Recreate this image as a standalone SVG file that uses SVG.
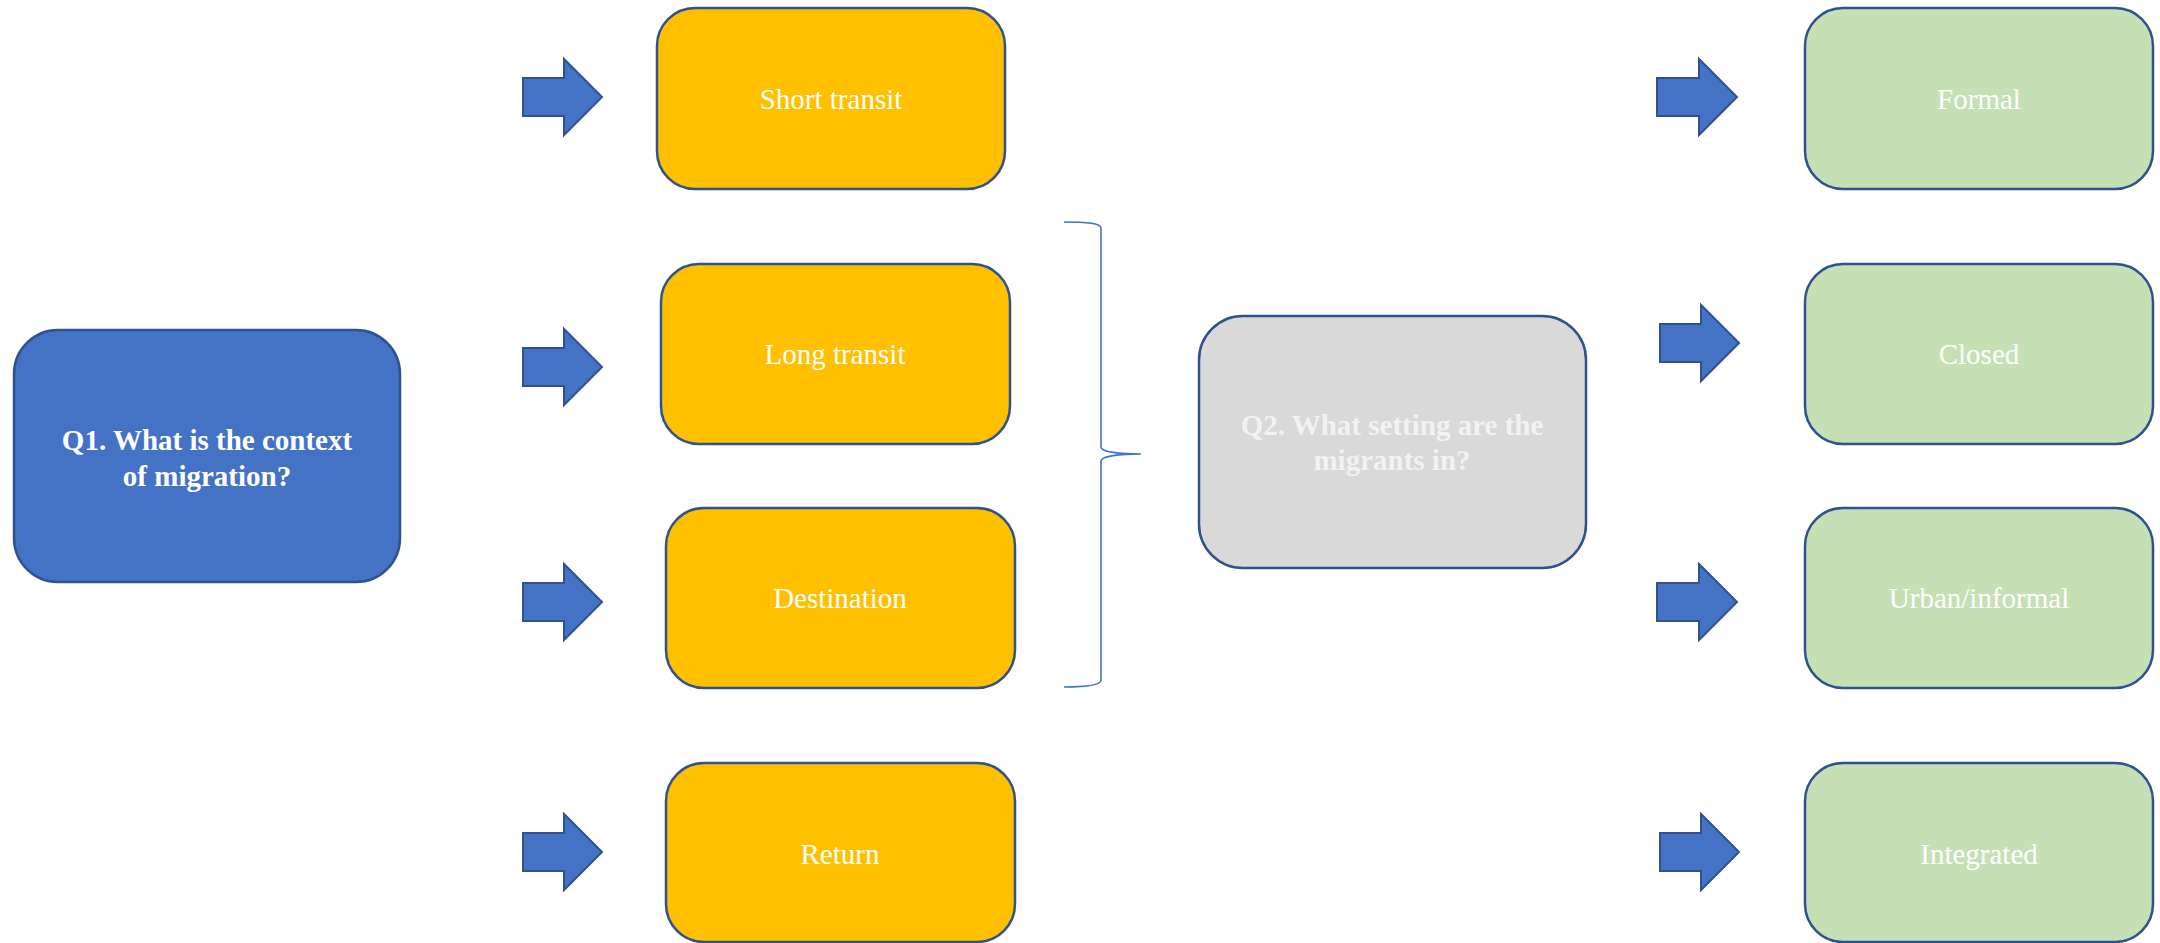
<svg xmlns="http://www.w3.org/2000/svg" width="2160" height="943" viewBox="0 0 2160 943">
<style>
.box{stroke:#2F528F;stroke-width:2.5}
.q1{fill:#4472C4}
.q2{fill:#D9D9D9}
.ctx{fill:#FFC000}
.set{fill:#C5E0B4}
.arr{fill:#4472C4;stroke:#2F528F;stroke-width:2;stroke-linejoin:miter}
.brace{fill:none;stroke:#4472C4;stroke-width:1.6}
text{font-family:"Liberation Serif","Times New Roman",serif;font-size:29px;text-anchor:middle;fill:#FFFFFF}
.b{font-weight:bold}
.grey{fill:#F2F2F2}
</style>
<rect width="2160" height="943" fill="#FFFFFF"/>
<g id="q1">
<rect class="box q1" x="14" y="330" width="386" height="252" rx="44"/>
<text class="b" x="207" y="450">Q1. What is the context</text>
<text class="b" x="207" y="486">of migration?</text>
</g>
<g id="short-transit">
<rect class="box ctx" x="657" y="8" width="348" height="181" rx="38"/>
<text x="831" y="109">Short transit</text>
</g>
<g id="long-transit">
<rect class="box ctx" x="661" y="264" width="349" height="180" rx="38"/>
<text x="835" y="364">Long transit</text>
</g>
<g id="destination">
<rect class="box ctx" x="666" y="508" width="349" height="180" rx="38"/>
<text x="840" y="608">Destination</text>
</g>
<g id="return">
<rect class="box ctx" x="666" y="763" width="349" height="179" rx="38"/>
<text x="840" y="864">Return</text>
</g>
<g id="q2">
<rect class="box q2" x="1199" y="316" width="387" height="252" rx="44"/>
<text class="b grey" x="1392" y="435">Q2. What setting are the</text>
<text class="b grey" x="1392" y="470">migrants in?</text>
</g>
<g id="formal">
<rect class="box set" x="1805" y="8" width="348" height="181" rx="38"/>
<text x="1979" y="109">Formal</text>
</g>
<g id="closed">
<rect class="box set" x="1805" y="264" width="348" height="180" rx="38"/>
<text x="1979" y="364">Closed</text>
</g>
<g id="urban-informal">
<rect class="box set" x="1805" y="508" width="348" height="180" rx="38"/>
<text x="1979" y="608">Urban/informal</text>
</g>
<g id="integrated">
<rect class="box set" x="1805" y="763" width="348" height="179" rx="38"/>
<text x="1979" y="864">Integrated</text>
</g>
<g id="connectors">
<polygon class="arr" points="523,78 564,78 564,59 602,97 564,135 564,116 523,116"/>
<polygon class="arr" points="523,348 564,348 564,329 602,367 564,405 564,386 523,386"/>
<polygon class="arr" points="523,583 564,583 564,564 602,602 564,640 564,621 523,621"/>
<polygon class="arr" points="523,833 564,833 564,814 602,852 564,890 564,871 523,871"/>
<polygon class="arr" points="1657,78 1699,78 1699,59 1737,97 1699,135 1699,116 1657,116"/>
<polygon class="arr" points="1660,324 1701,324 1701,305 1739,343 1701,381 1701,362 1660,362"/>
<polygon class="arr" points="1657,583 1699,583 1699,564 1737,602 1699,640 1699,621 1657,621"/>
<polygon class="arr" points="1660,833 1701,833 1701,814 1739,852 1701,890 1701,871 1660,871"/>
<path class="brace" d="M1064,222 C1085,222 1101,223 1101,228 L1101,447 C1101,452 1120,454 1141,454 C1120,454 1101,456 1101,461 L1101,680 C1101,685 1085,687 1064,687"/>
</g>
</svg>
